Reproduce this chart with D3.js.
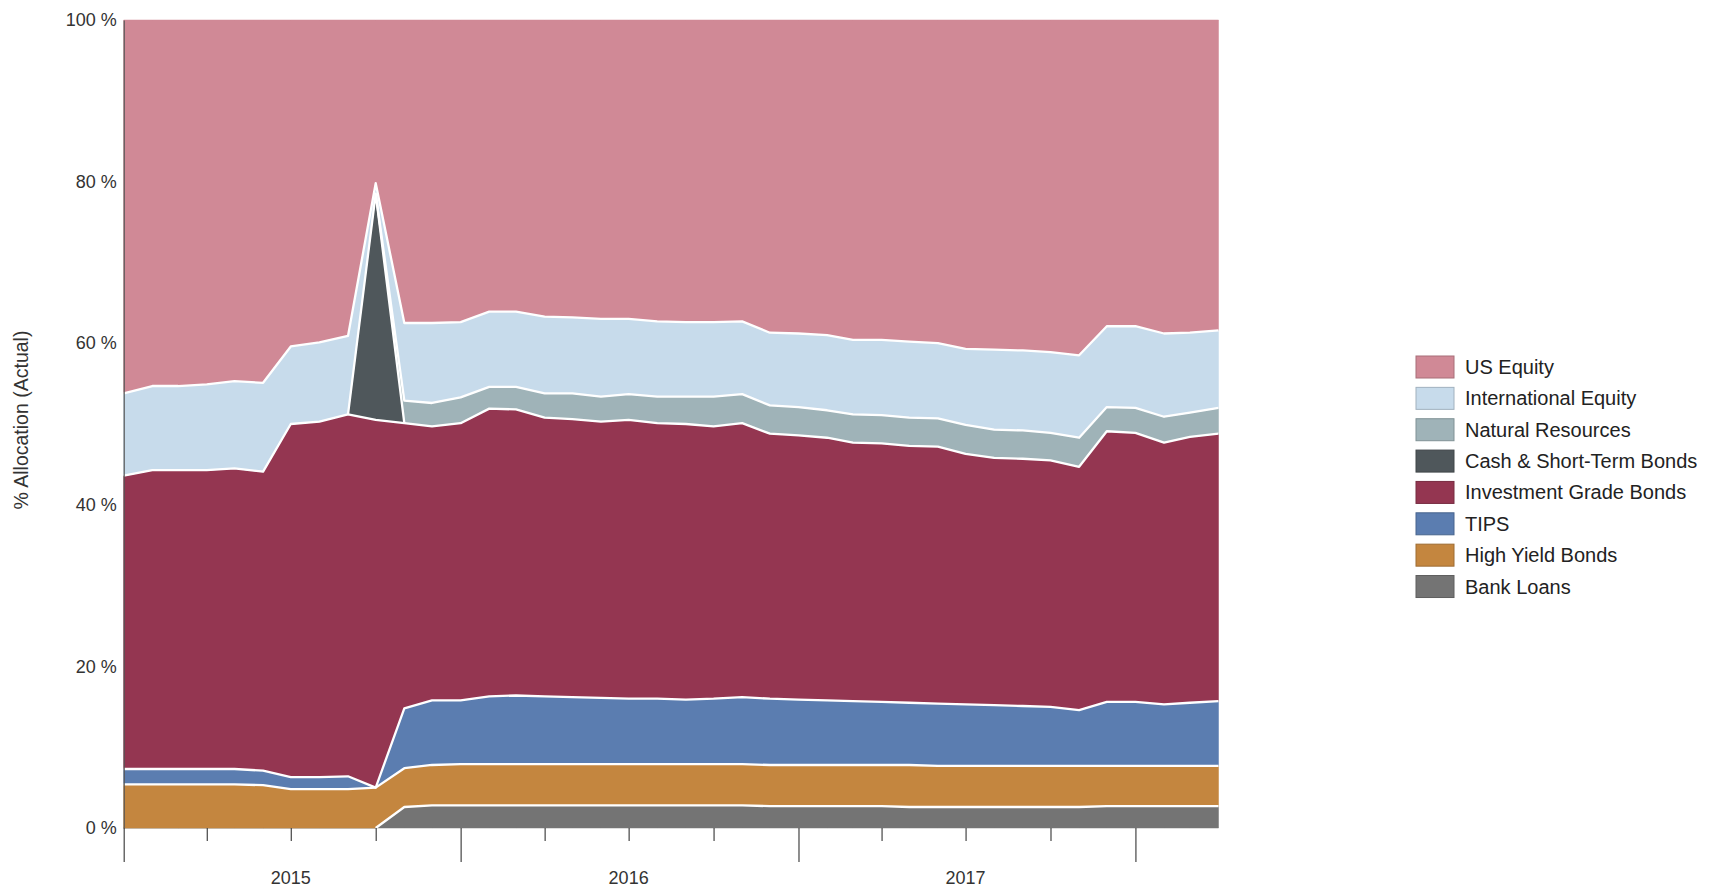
<!DOCTYPE html>
<html>
<head>
<meta charset="utf-8">
<script src="https://cdn.jsdelivr.net/npm/d3@7/dist/d3.min.js"></script>
<style>
  body { margin: 0; background: #ffffff; }
  text { font-family: "Liberation Sans", Arial, sans-serif; }
</style>
</head>
<body>
<svg id="chart" width="1712" height="890"></svg>
<script>
// ---------- DATA ----------
const months = [
  "2015-01","2015-02","2015-03","2015-04","2015-05","2015-06","2015-07","2015-08","2015-09","2015-10",
  "2015-11","2015-12","2016-01","2016-02","2016-03","2016-04","2016-05","2016-06","2016-07","2016-08",
  "2016-09","2016-10","2016-11","2016-12","2017-01","2017-02","2017-03","2017-04","2017-05","2017-06",
  "2017-07","2017-08","2017-09","2017-10","2017-11","2017-12","2018-01","2018-02","2018-03","2018-04"
];
const seriesNames = ["Bank Loans","High Yield Bonds","TIPS","Investment Grade Bonds",
  "Cash & Short-Term Bonds","Natural Resources","International Equity","US Equity"];

const bankLoans = [0,0,0,0,0,0,0,0,0,0, 2.6,2.8,2.8,2.8,2.8,2.8,2.8,2.8,2.8,2.8,
  2.8,2.8,2.8,2.7,2.7,2.7,2.7,2.7,2.6,2.6, 2.6,2.6,2.6,2.6,2.6,2.7,2.7,2.7,2.7,2.7];
const highYield = [5.4,5.4,5.4,5.4,5.4,5.3,4.8,4.8,4.8,5.0, 4.8,5.0,5.1,5.1,5.1,5.1,5.1,5.1,5.1,5.1,
  5.1,5.1,5.1,5.1,5.1,5.1,5.1,5.1,5.2,5.1, 5.1,5.1,5.1,5.1,5.1,5.0,5.0,5.0,5.0,5.0];
const tips = [1.9,1.9,1.9,1.9,1.9,1.8,1.5,1.5,1.6,0, 7.4,8.0,7.9,8.4,8.5,8.4,8.3,8.2,8.1,8.1,
  8.0,8.1,8.3,8.2,8.1,8.0,7.9,7.8,7.7,7.7, 7.6,7.5,7.4,7.3,6.9,7.9,7.9,7.6,7.8,8.0];
const igBonds = [36.3,37.0,37.0,37.0,37.2,37.0,43.7,44.0,44.8,45.5, 35.3,33.9,34.3,35.6,35.4,34.5,34.4,34.2,34.5,34.1,
  34.1,33.7,33.9,32.8,32.7,32.5,32.0,32.0,31.8,31.8, 31.0,30.6,30.6,30.5,30.1,33.5,33.3,32.4,32.9,33.1];
const cashShort = [0,0,0,0,0,0,0,0,0,28.0, 0,0,0,0,0,0,0,0,0,0,
  0,0,0,0,0,0,0,0,0,0, 0,0,0,0,0,0,0,0,0,0];
const natRes = [0,0,0,0,0,0,0,0,0,0, 2.8,2.9,3.2,2.7,2.8,3.0,3.2,3.1,3.2,3.3,
  3.4,3.7,3.6,3.5,3.5,3.4,3.5,3.5,3.5,3.5, 3.6,3.5,3.5,3.4,3.6,3.0,3.1,3.2,3.0,3.2];
const intlEquity = [10.2,10.4,10.4,10.6,10.8,11.0,9.6,9.8,9.7,1.3, 9.6,9.9,9.3,9.3,9.3,9.5,9.4,9.6,9.3,9.3,
  9.2,9.2,9.0,9.0,9.1,9.3,9.2,9.3,9.4,9.3, 9.4,9.9,9.9,10.0,10.2,10.0,10.1,10.3,9.9,9.6];
const usEquity = [46.2,45.3,45.3,45.1,44.7,44.9,40.4,39.9,39.1,20.2, 37.5,37.5,37.4,36.1,36.1,36.7,36.8,37.0,37.0,37.3,
  37.4,37.4,37.3,38.7,38.8,39.0,39.6,39.6,39.8,40.0, 40.7,40.8,40.9,41.1,41.5,37.9,37.9,38.8,38.7,38.4];

const yTicks = [0, 20, 40, 60, 80, 100];
const yearLabels = ["2015", "2016", "2017"];
const yTitle = "% Allocation (Actual)";

const colors = {
  "US Equity": "#d08996",
  "International Equity": "#c7dbeb",
  "Natural Resources": "#9fb3b8",
  "Cash & Short-Term Bonds": "#4f575b",
  "Investment Grade Bonds": "#943651",
  "TIPS": "#5b7db0",
  "High Yield Bonds": "#c4863f",
  "Bank Loans": "#747474"
};

// ---------- BUILD ----------
(function () {
const valuesByName = {
  "Bank Loans": bankLoans, "High Yield Bonds": highYield, "TIPS": tips,
  "Investment Grade Bonds": igBonds, "Cash & Short-Term Bonds": cashShort,
  "Natural Resources": natRes, "International Equity": intlEquity, "US Equity": usEquity
};
const parse = d3.timeParse("%Y-%m");
const rows = months.map((m, i) => {
  const r = { date: parse(m) };
  seriesNames.forEach(n => r[n] = valuesByName[n][i]);
  return r;
});

const svg = d3.select("#chart");
const pL = 123.7, pR = 1218.5, pT = 20, pB = 828;

const x = d3.scaleTime()
  .domain([rows[0].date, rows[rows.length - 1].date])
  .range([pL, pR]);
const y = d3.scaleLinear().domain([0, 100]).range([pB, pT]);

const stack = d3.stack().keys(seriesNames).offset(d3.stackOffsetExpand);
const layers = stack(rows);

const area = d3.area()
  .x(d => x(d.data.date))
  .y0(d => y(d[0] * 100))
  .y1(d => y(d[1] * 100));

const g = svg.append("g");
g.selectAll("path.layer")
  .data(layers)
  .join("path")
  .attr("class", "layer")
  .attr("fill", d => colors[d.key])
  .attr("stroke", d => colors[d.key])
  .attr("stroke-width", 0.5)
  .attr("d", area);

// white separator lines on each layer top (except top layer)
layers.slice(0, layers.length - 1).forEach(layer => {
  const vals = valuesByName[layer.key];
  const line = d3.line()
    .defined((d, i) => vals[i] > 0 || (i > 0 && vals[i - 1] > 0) || (i < vals.length - 1 && vals[i + 1] > 0))
    .x(d => x(d.data.date))
    .y(d => y(d[1] * 100));
  g.append("path")
    .attr("fill", "none")
    .attr("stroke", "#ffffff")
    .attr("stroke-width", 2.3)
    .attr("stroke-linejoin", "round")
    .attr("d", line(layer));
});

// Y axis
const yAxis = d3.axisLeft(y)
  .tickValues(yTicks)
  .tickFormat(d => d + " %")
  .tickSize(0)
  .tickPadding(7);
const yg = svg.append("g").attr("transform", `translate(${pL},0)`).call(yAxis);
yg.select(".domain").attr("stroke", "#555").attr("stroke-width", 1.2);
yg.selectAll("text").attr("font-size", 18).attr("fill", "#333")
  .style("font-family", '"Liberation Sans", Arial, sans-serif');

// X axis ticks (quarters, years longer)
const qTicks = x.ticks(d3.timeMonth.every(3)).filter(d => +d < +x.domain()[1]);
const xAxis = d3.axisBottom(x).tickValues(qTicks).tickFormat("").tickSize(13).tickSizeOuter(0);
const xg = svg.append("g").attr("transform", `translate(0,${pB})`).call(xAxis);
xg.select(".domain").remove();
xg.selectAll(".tick line")
  .attr("stroke", "#444")
  .attr("stroke-width", 1.2)
  .attr("y2", d => d.getMonth() === 0 ? 34 : 13);

svg.append("g").selectAll("text")
  .data(yearLabels)
  .join("text")
  .attr("x", d => x(new Date(+d, 6, 1)))
  .attr("y", 884)
  .attr("text-anchor", "middle")
  .attr("font-size", 18)
  .attr("fill", "#333")
  .text(d => d);

// Y title
svg.append("text")
  .attr("transform", `translate(28,${(pT + pB) / 2 - 4}) rotate(-90)`)
  .attr("text-anchor", "middle")
  .attr("font-size", 19.5)
  .attr("fill", "#333")
  .text(yTitle);

// Legend
const legendOrder = seriesNames.slice().reverse();
const lg = svg.append("g").attr("transform", "translate(1416,367)");
const items = lg.selectAll("g").data(legendOrder).join("g")
  .attr("transform", (d, i) => `translate(0,${i * 31.36})`);
items.append("rect")
  .attr("x", 0).attr("y", -11).attr("width", 38).attr("height", 22)
  .attr("fill", d => colors[d])
  .attr("stroke", d => d3.color(colors[d]).darker(0.6))
  .attr("stroke-width", 1);
items.append("text")
  .attr("x", 49).attr("y", 7)
  .attr("font-size", 20)
  .attr("fill", "#222")
  .text(d => d);
})();
</script>
</body>
</html>
